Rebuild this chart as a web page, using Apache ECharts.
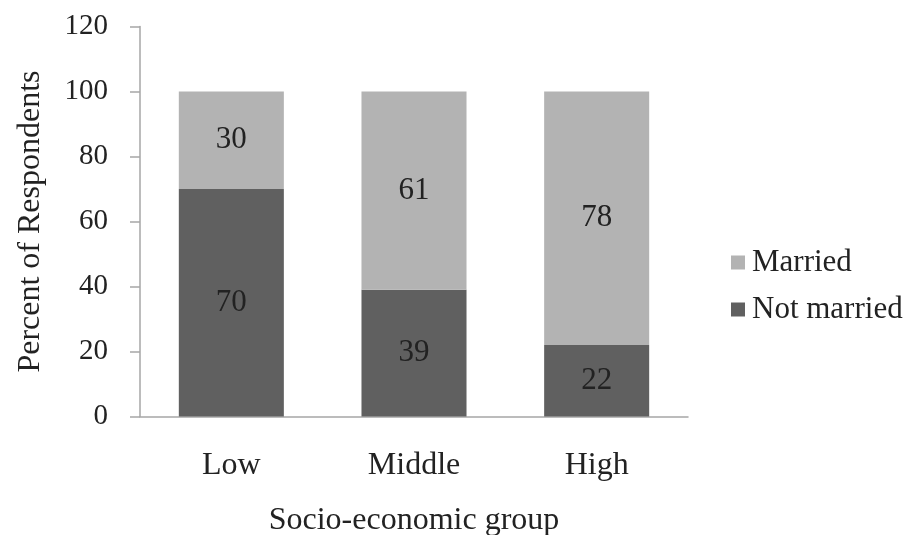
<!DOCTYPE html>
<html>
<head>
<meta charset="utf-8">
<script src="https://cdn.jsdelivr.net/npm/echarts@6/dist/echarts.min.js"></script>
<style>html,body{margin:0;padding:0;background:#fff}#c{width:910px;height:535px}</style>
</head>
<body>
<div id="c"></div>
<script>
var categories = ['Low', 'Middle', 'High'];
var notMarried = [70, 39, 22];
var married = [30, 61, 78];
var yTicks = [0, 20, 40, 60, 80, 100, 120];

var font = 'Liberation Serif, Times New Roman, serif';
var chart = echarts.init(document.getElementById('c'));
chart.setOption({
  animation: false,
  textStyle: { fontFamily: font },
  grid: { left: 140, right: 222, top: 26.5, bottom: 118.5, containLabel: false, outerBoundsMode: 'none' },
  legend: {
    orient: 'vertical', left: 726, top: 242,
    itemWidth: 14, itemHeight: 14, itemGap: 16,
    data: ['Married', 'Not married'],
    textStyle: { fontFamily: font, fontSize: 31, color: '#222', padding: [0, 0, 0, 2] },
    icon: 'rect'
  },
  xAxis: {
    type: 'category', data: categories,
    axisLine: { lineStyle: { color: '#a6a6a6', width: 1.5 } },
    axisTick: { show: false },
    axisLabel: { fontFamily: font, fontSize: 32, color: '#222', margin: 33 },
    name: 'Socio-economic group', nameLocation: 'middle', nameGap: 88,
    nameTextStyle: { fontFamily: font, fontSize: 32, color: '#222' }
  },
  yAxis: {
    type: 'value', min: yTicks[0], max: yTicks[yTicks.length - 1], interval: 20,
    axisLine: { show: true, lineStyle: { color: '#a6a6a6', width: 1.5 } },
    axisTick: { show: true, length: 10, lineStyle: { color: '#a6a6a6', width: 1.5 } },
    splitLine: { show: false },
    axisLabel: { fontFamily: font, fontSize: 29, color: '#222', margin: 32 },
    name: 'Percent of Respondents', nameLocation: 'middle', nameGap: 93,
    nameTextStyle: { fontFamily: font, fontSize: 32, color: '#222' }
  },
  series: [
    {
      name: 'Not married', type: 'bar', stack: 's', data: notMarried, barWidth: '57.5%',
      itemStyle: { color: '#606060' },
      label: { show: true, position: 'inside', fontFamily: font, fontSize: 31, color: '#222' }
    },
    {
      name: 'Married', type: 'bar', stack: 's', data: married, barWidth: '57.5%',
      itemStyle: { color: '#b3b3b3' },
      label: { show: true, position: 'inside', fontFamily: font, fontSize: 31, color: '#222' }
    }
  ]
});
</script>
</body>
</html>
